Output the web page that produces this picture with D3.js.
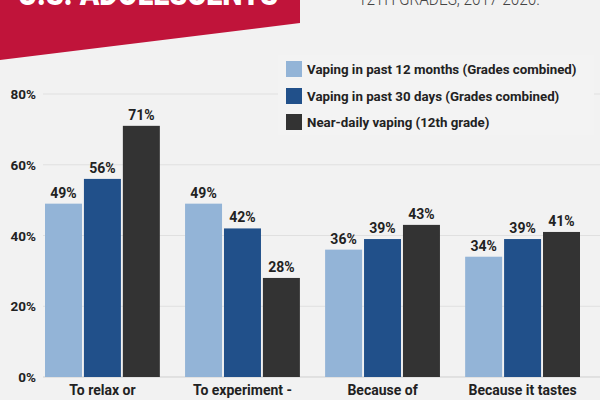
<!DOCTYPE html>
<html><head><meta charset="utf-8">
<script src="https://cdn.jsdelivr.net/npm/d3@7"></script>
<style>
html,body{margin:0;padding:0;background:#f2f2f2;}
svg{display:block;font-family:Roboto, "Noto Sans", sans-serif;}
</style></head>
<body><svg id="c" width="600" height="400"></svg>
<script>
const categories = ["To relax or", "To experiment -", "Because of", "Because it tastes"];
const seriesNames = ["Vaping in past 12 months (Grades combined)", "Vaping in past 30 days (Grades combined)", "Near-daily vaping (12th grade)"];
const past12 = [49, 49, 36, 34];
const past30 = [56, 42, 39, 39];
const nearDaily = [71, 28, 43, 41];
const yTicks = [0, 20, 40, 60, 80];
const colors = ["#93b4d7", "#21508a", "#333333"];

const series = [past12, past30, nearDaily];
const svg = d3.select("#c");
svg.append("rect").attr("width",600).attr("height",400).attr("fill","#f2f2f2");

// banner
svg.append("path").attr("d","M0,0 L300,0 L300,23 L0,60 Z").attr("fill","#c0143a");
svg.append("text").attr("x",18).attr("y",5).attr("fill","#fff")
  .attr("font-size",34).attr("font-weight",900)
  .attr("textLength",260).attr("lengthAdjust","spacingAndGlyphs")
  .text("U.S. ADOLESCENTS");
svg.append("text").attr("x",358).attr("y",5).attr("fill","#444")
  .attr("font-size",19).attr("font-weight",300)
  .attr("textLength",182).attr("lengthAdjust","spacingAndGlyphs")
  .text("12TH GRADES, 2017-2020.");

const y = d3.scaleLinear().domain([0,80]).range([377,94]);
const x0 = d3.scaleBand().domain(categories).range([45,580]).paddingInner(0.18).paddingOuter(0);
const x1 = d3.scaleBand().domain([0,1,2]).range([0,x0.bandwidth()]).paddingInner(0.05);

// grid
const grid = svg.append("g");
yTicks.forEach(t=>{
  grid.append("line").attr("x1",43).attr("x2",600).attr("y1",y(t)).attr("y2",y(t))
    .attr("stroke", t===0 ? "#cfcfcf" : "#e0e0e0").attr("stroke-width",1);
});

// y axis
const yAxis = d3.axisLeft(y).tickValues(yTicks).tickFormat(d=>d+"%").tickSize(0).tickPadding(0);
const ya = svg.append("g").attr("transform","translate(36,0)").call(yAxis);
ya.select(".domain").remove();
ya.selectAll("text").attr("font-size",13.5).attr("font-weight",700).attr("fill","#222")
  .attr("font-family","Roboto, sans-serif").attr("dy","0.35em");

// bars
categories.forEach((c,i)=>{
  const g = svg.append("g").attr("transform",`translate(${x0(c)},0)`);
  series.forEach((s,j)=>{
    g.append("rect").attr("x",x1(j)).attr("y",y(s[i])).attr("width",x1.bandwidth())
      .attr("height",y(0)-y(s[i])).attr("fill",colors[j]);
    g.append("text").attr("x",x1(j)+x1.bandwidth()/2).attr("y",y(s[i])-6)
      .attr("text-anchor","middle").attr("font-size",14).attr("font-weight",700)
      .attr("fill","#222").text(s[i]+"%");
  });
});

// x axis labels
const xAxis = d3.axisBottom(x0).tickSize(0).tickPadding(0);
const xa = svg.append("g").attr("transform","translate(0,385)").call(xAxis);
xa.select(".domain").remove();
xa.selectAll("text").attr("font-size",14).attr("font-weight",700).attr("fill","#222")
  .attr("font-family","Roboto, sans-serif").attr("dy","0.71em");

// legend
const lg = svg.append("g");
lg.append("rect").attr("x",278).attr("y",55).attr("width",316).attr("height",80).attr("fill","#f3f3f3");
seriesNames.forEach((n,j)=>{
  const cy = [69,96,122][j];
  lg.append("rect").attr("x",286).attr("y",cy-8).attr("width",16).attr("height",16).attr("fill",colors[j]);
  lg.append("text").attr("x",307).attr("y",cy).attr("dy","0.35em").attr("font-size",13.3)
    .attr("font-weight",700).attr("fill","#222").text(n);
});
</script></body></html>
